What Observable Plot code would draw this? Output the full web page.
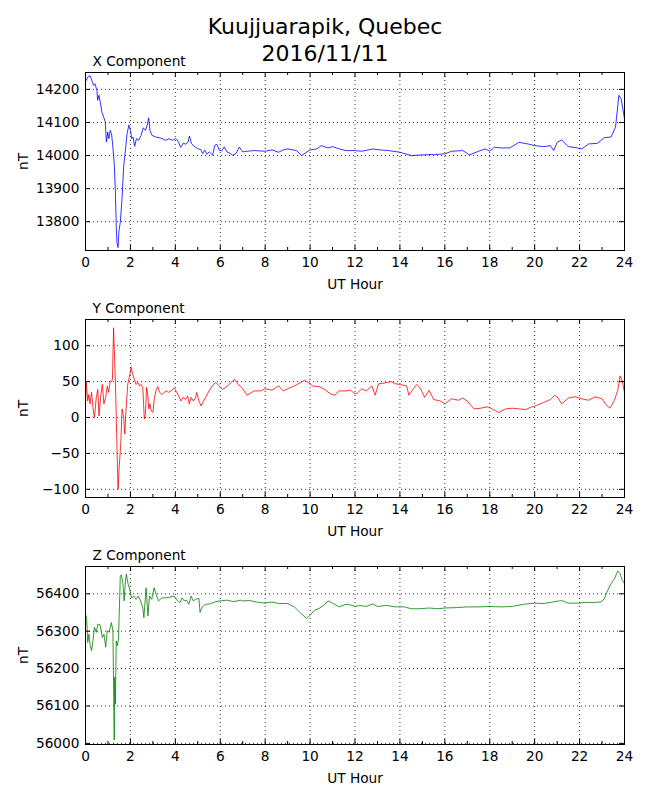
<!DOCTYPE html>
<html><head><meta charset="utf-8">
<script src="https://cdn.jsdelivr.net/npm/d3@7"></script>
<script src="https://cdn.jsdelivr.net/npm/@observablehq/plot@0.6"></script>
<style>
body{margin:0;background:#fff;font-family:"DejaVu Sans",sans-serif;}
#fig{position:relative;width:650px;height:800px;background:#fff;}
#title{position:absolute;top:12.5px;left:0;width:650px;text-align:center;font-size:22px;line-height:27.7px;color:#000;}
.panel{position:absolute;left:0;}
</style></head><body>
<div id="fig"><div id="title">Kuujjuarapik, Quebec<br>2016/11/11</div></div>
<script>
// ---- data: [UT hour, nT] ----
const xComponent = [[0.03,14227],[0.12,14239],[0.21,14241],[0.27,14229],[0.36,14212],[0.42,14217],[0.51,14197],[0.54,14167],[0.6,14182],[0.66,14161],[0.73,14131],[0.81,14116],[0.88,14102],[0.93,14041],[0.99,14071],[1.04,14051],[1.1,14076],[1.16,14066],[1.22,14025],[1.28,13975],[1.33,13894],[1.37,13783],[1.4,13737],[1.45,13722],[1.49,13773],[1.55,13798],[1.63,13874],[1.7,13966],[1.79,14025],[1.85,14066],[1.93,14092],[2.0,14076],[2.06,14051],[2.12,14056],[2.19,14028],[2.27,14051],[2.37,14046],[2.48,14061],[2.57,14084],[2.67,14076],[2.75,14092],[2.81,14114],[2.87,14076],[2.96,14061],[3.12,14056],[3.34,14053],[3.57,14046],[3.72,14051],[3.87,14046],[4.01,14051],[4.12,14044],[4.24,14025],[4.36,14038],[4.46,14034],[4.57,14041],[4.63,14059],[4.72,14036],[4.84,14028],[4.99,14021],[5.13,14018],[5.22,14006],[5.31,14016],[5.4,14004],[5.51,14011],[5.66,14001],[5.76,14031],[5.85,14034],[5.96,14016],[6.06,14014],[6.18,14026],[6.3,14011],[6.45,14006],[6.55,14001],[6.7,14006],[6.85,14026],[7.0,14011],[7.2,14013],[7.5,14015],[8.0,14013],[8.3,14017],[8.6,14010],[8.8,14017],[9.0,14020],[9.4,14015],[9.62,14000],[10.0,14017],[10.3,14020],[10.5,14030],[10.8,14023],[11.0,14027],[11.3,14020],[11.6,14015],[12.0,14015],[12.3,14013],[12.8,14020],[13.1,14017],[13.5,14015],[14.0,14010],[14.5,14000],[15.0,14002],[15.5,14003],[16.0,14005],[16.3,14013],[16.8,14015],[17.1,14002],[17.5,14013],[17.8,14020],[18.0,14013],[18.2,14025],[18.5,14023],[18.9,14023],[19.3,14040],[19.7,14035],[20.0,14030],[20.4,14027],[20.7,14030],[20.85,14015],[21.0,14040],[21.2,14047],[21.5,14027],[21.9,14023],[22.1,14020],[22.4,14035],[22.8,14037],[23.1,14054],[23.4,14056],[23.6,14086],[23.75,14182],[23.85,14172],[24.0,14111]];

const yComponent = [[0.0,14],[0.03,49],[0.1,23],[0.15,32],[0.2,19],[0.27,35],[0.33,14],[0.4,0],[0.48,28],[0.55,39],[0.6,2],[0.67,28],[0.75,46],[0.82,19],[0.9,28],[0.97,44],[1.03,35],[1.1,51],[1.16,50],[1.2,53],[1.25,125],[1.3,79],[1.35,28],[1.4,-42],[1.45,-100],[1.5,-69],[1.57,-37],[1.63,12],[1.7,0],[1.75,-23],[1.8,9],[1.88,46],[1.95,56],[2.03,70],[2.1,60],[2.18,53],[2.25,46],[2.33,49],[2.4,44],[2.48,46],[2.55,42],[2.62,-2],[2.67,5],[2.72,42],[2.77,32],[2.82,12],[2.87,19],[2.93,9],[3.0,7],[3.07,28],[3.15,39],[3.22,43],[3.3,35],[3.4,32],[3.5,35],[3.6,37],[3.7,35],[3.85,38],[3.95,41],[4.05,36],[4.15,30],[4.25,23],[4.35,28],[4.45,25],[4.55,30],[4.62,19],[4.7,28],[4.8,23],[4.9,27],[4.95,35],[5.05,23],[5.15,16],[5.22,21],[5.35,28],[5.5,37],[5.65,44],[5.8,49],[5.95,44],[6.1,39],[6.25,42],[6.4,46],[6.55,51],[6.65,53],[6.8,46],[6.95,42],[7.2,31],[7.5,37],[7.8,37],[8.0,40],[8.3,38],[8.6,44],[8.8,37],[9.0,40],[9.3,44],[9.6,49],[9.75,52],[9.9,49],[10.1,44],[10.4,43],[10.6,40],[10.9,33],[11.1,31],[11.3,37],[11.6,37],[11.8,38],[12.0,33],[12.1,34],[12.3,40],[12.5,37],[12.75,44],[12.9,31],[13.05,47],[13.3,48],[13.6,50],[13.8,47],[14.0,46],[14.3,44],[14.4,31],[14.6,40],[14.75,46],[14.9,41],[15.1,28],[15.3,38],[15.5,25],[15.8,23],[16.0,19],[16.3,26],[16.6,24],[16.8,27],[17.0,23],[17.3,12],[17.6,13],[17.9,15],[18.1,12],[18.4,7],[18.7,12],[19.0,13],[19.3,12],[19.6,11],[19.8,14],[20.1,17],[20.4,21],[20.7,25],[20.9,31],[21.05,27],[21.2,19],[21.5,27],[21.8,29],[22.1,26],[22.4,24],[22.7,29],[23.0,26],[23.2,17],[23.35,13],[23.55,24],[23.7,38],[23.8,58],[23.9,51],[24.0,35]];

const zComponent = [[0.0,56345],[0.05,56336],[0.1,56270],[0.15,56292],[0.2,56265],[0.27,56248],[0.33,56274],[0.4,56311],[0.48,56297],[0.55,56319],[0.65,56317],[0.75,56283],[0.82,56292],[0.9,56257],[0.97,56302],[1.05,56297],[1.15,56323],[1.22,56302],[1.28,56009],[1.3,56177],[1.33,56106],[1.37,56274],[1.42,56261],[1.47,56279],[1.55,56447],[1.6,56451],[1.67,56425],[1.72,56381],[1.78,56434],[1.82,56453],[1.9,56425],[1.97,56412],[2.05,56389],[2.15,56394],[2.25,56385],[2.35,56394],[2.45,56381],[2.55,56363],[2.6,56336],[2.7,56416],[2.78,56341],[2.85,56394],[2.95,56385],[3.05,56416],[3.15,56398],[3.25,56381],[3.4,56389],[3.55,56389],[3.75,56391],[3.95,56394],[4.1,56381],[4.2,56376],[4.3,56389],[4.4,56381],[4.5,56383],[4.6,56372],[4.7,56394],[4.8,56381],[4.9,56385],[5.05,56388],[5.1,56350],[5.2,56365],[5.35,56372],[5.55,56373],[5.8,56379],[6.0,56381],[6.3,56383],[6.6,56379],[6.9,56383],[7.0,56381],[7.3,56382],[7.6,56378],[8.0,56375],[8.3,56378],[8.6,56374],[9.0,56374],[9.3,56365],[9.6,56347],[9.85,56334],[10.0,56343],[10.2,56356],[10.4,56361],[10.6,56369],[10.8,56381],[11.0,56375],[11.3,56365],[11.6,56372],[11.9,56369],[12.0,56366],[12.2,56369],[12.5,56366],[12.8,56373],[13.0,56366],[13.4,56369],[13.8,56365],[14.2,56365],[14.5,56360],[14.9,56360],[15.3,56362],[15.7,56360],[16.0,56362],[16.5,56363],[17.0,56365],[17.5,56365],[18.0,56366],[18.5,56365],[19.0,56366],[19.5,56372],[20.0,56375],[20.4,56374],[20.8,56378],[21.2,56382],[21.5,56375],[21.9,56375],[22.3,56377],[22.7,56377],[22.95,56378],[23.1,56387],[23.25,56409],[23.4,56427],[23.55,56440],[23.7,56461],[23.8,56454],[23.9,56436],[24.0,56427]];

const hourTicks = [0,2,4,6,8,10,12,14,16,18,20,22,24];
const hourMinorTicks = [1,3,5,7,9,11,13,15,17,19,21,23];
const xTicks = [13800,13900,14000,14100,14200];
const yTicks = [-100,-50,0,50,100];
const zTicks = [56000,56100,56200,56300,56400];

const panels = [
  {name:"X Component", data:xComponent, color:"blue",  domain:[13713,14251], ticks:xTicks, top:42},
  {name:"Y Component", data:yComponent, color:"red",   domain:[-111.4,136.5], ticks:yTicks, top:289},
  {name:"Z Component", data:zComponent, color:"green", domain:[55997,56473], ticks:zTicks, top:536}
];

const W=650, H=247, mt=30, mb=39, ml=85, mr=26;
const fh=H-mt-mb, fw=W-ml-mr;
const fs=13.7;
const fmt=d3.format("d");
const fig=document.getElementById("fig");

for (const p of panels) {
  const pts = p.data.map(([h,v])=>({h,v}));
  const chart = Plot.plot({
    width:W, height:H, marginTop:mt, marginBottom:mb, marginLeft:ml, marginRight:mr,
    style:{fontFamily:'"DejaVu Sans", sans-serif', fontSize:fs+"px", color:"black", background:"transparent", overflow:"visible"},
    x:{domain:[0,24]},
    y:{domain:p.domain},
    marks:[
      Plot.gridX(hourTicks,{stroke:"black",strokeOpacity:1,strokeWidth:0.8,strokeDasharray:"1,3"}),
      Plot.gridY(p.ticks,{stroke:"black",strokeOpacity:1,strokeWidth:0.8,strokeDasharray:"1,3"}),
      Plot.line(pts,{x:"h",y:"v",stroke:p.color,strokeWidth:0.8,clip:true}),
      Plot.tickX(hourTicks,{x:d=>d,stroke:"black",insetTop:fh-5}),
      Plot.tickX(hourTicks,{x:d=>d,stroke:"black",insetBottom:fh-5}),
      Plot.tickX(hourMinorTicks,{x:d=>d,stroke:"black",insetTop:fh-3}),
      Plot.tickX(hourMinorTicks,{x:d=>d,stroke:"black",insetBottom:fh-3}),
      Plot.tickY(p.ticks,{y:d=>d,stroke:"black",insetRight:fw-5}),
      Plot.tickY(p.ticks,{y:d=>d,stroke:"black",insetLeft:fw-5}),
      Plot.frame({stroke:"black",strokeWidth:1}),
      Plot.axisX(hourTicks,{tickSize:0,tickPadding:7,tickFormat:fmt,label:null,fontSize:fs}),
      Plot.axisY(p.ticks,{tickSize:0,tickPadding:6,tickFormat:fmt,label:null,fontSize:fs}),
      Plot.text(["UT Hour"],{frameAnchor:"bottom",dy:38,lineAnchor:"bottom",textAnchor:"middle",fontSize:fs,fill:"black"}),
      Plot.text(["nT"],{frameAnchor:"left",dx:-62,rotate:-90,textAnchor:"middle",lineAnchor:"middle",fontSize:fs,fill:"black"}),
      Plot.text([p.name],{frameAnchor:"top-left",dx:7,dy:-7,lineAnchor:"bottom",textAnchor:"start",fontSize:fs,fill:"black"})
    ]
  });
  chart.classList.add("panel");
  chart.style.top = p.top+"px";
  fig.appendChild(chart);
}
</script>
</body></html>
